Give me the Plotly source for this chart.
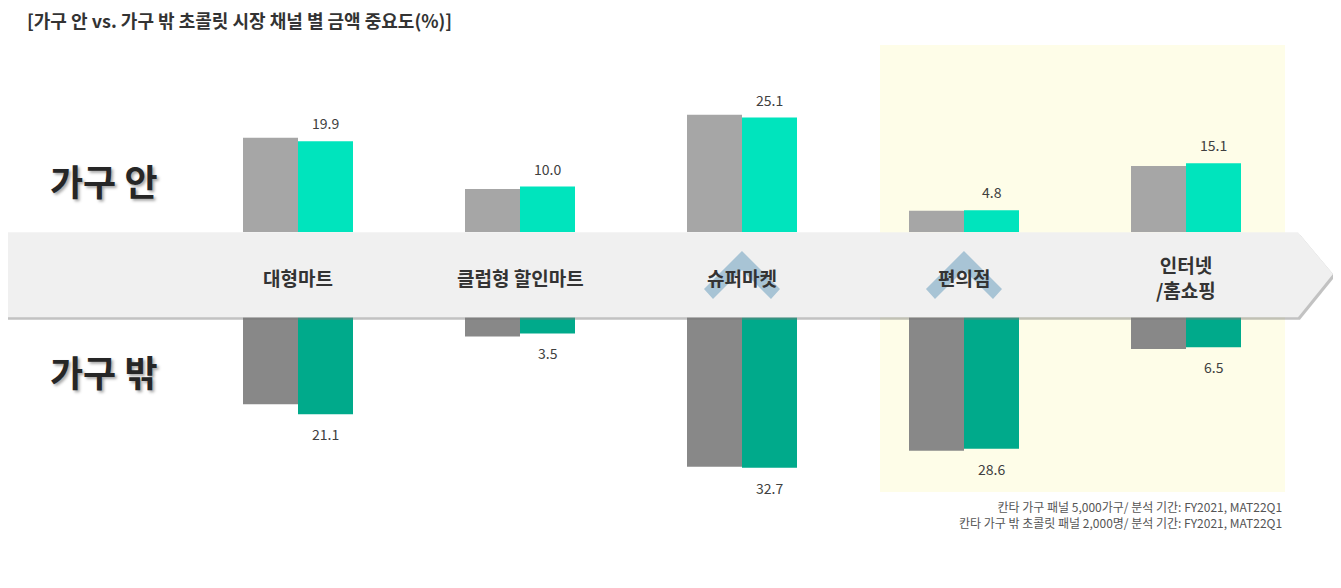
import plotly.graph_objects as go

W, H = 1341, 588
FONT = "Noto Sans CJK KR"

channels = ["대형마트", "클럽형 할인마트", "슈퍼마켓", "편의점", "인터넷<br>/홈쇼핑"]
# gray bars carry no labels in the source
inside_prev = [20.7, 9.5, 25.7, 4.7, 14.5]
inside_cur = [19.9, 10.0, 25.1, 4.8, 15.1]
outside_prev = [18.9, 4.2, 32.5, 29.0, 6.9]
outside_cur = [21.1, 3.5, 32.7, 28.6, 6.5]

title_text = "[가구 안 vs. 가구 밖 초콜릿 시장 채널 별 금액 중요도(%)]"
row_labels = ["가구 안", "가구 밖"]
source_lines = [
    "칸타 가구 패널 5,000가구/ 분석 기간: FY2021, MAT22Q1",
    "칸타 가구 밖 초콜릿 패널 2,000명/ 분석 기간: FY2021, MAT22Q1",
]
chevron_on = ["슈퍼마켓", "편의점"]

# the page body keeps its default 8px margin, so page pixels are shifted by it
OFF = 8


def px(x):
    return (x - OFF) / W


def py(y):
    return 1 - (y - OFF) / H


def path(points):
    return "M " + " L ".join(f"{px(x):.5f},{py(y):.5f}" for x, y in points) + " Z"


# pixel geometry of the two half-axes around the band
band_top, band_bot = 232.3, 317.3
y_max = 40
up_scale, low_scale = 4.57, 4.6
x_lo, x_hi = (OFF - 298) / 222, (OFF + W - 298) / 222
bar_px = 55

fig = go.Figure()
for vals, color, xa, ya in [
    (inside_prev, "#A6A6A6", "x", "y"),
    (inside_cur, "#00E4BD", "x", "y"),
    (outside_prev, "#888888", "x2", "y2"),
    (outside_cur, "#00AA8B", "x2", "y2"),
]:
    fig.add_trace(go.Bar(x=channels, y=vals, marker=dict(color=color, line_width=0),
                         xaxis=xa, yaxis=ya, showlegend=False, hoverinfo="skip"))

bar_units = bar_px * (x_hi - x_lo) / W
hidden = dict(visible=False, showgrid=False, zeroline=False)
fig.update_layout(
    width=W, height=H,
    margin=dict(l=0, r=0, t=0, b=0),
    paper_bgcolor="white",
    plot_bgcolor="rgba(0,0,0,0)",
    barmode="group",
    bargap=1 - 2 * bar_units,
    bargroupgap=0,
    xaxis=dict(hidden, domain=[0, 1], range=[x_lo, x_hi], anchor="y"),
    xaxis2=dict(hidden, domain=[0, 1], range=[x_lo, x_hi], anchor="y2"),
    yaxis=dict(hidden, range=[0, y_max], anchor="x",
               domain=[py(band_top), py(band_top - y_max * up_scale)]),
    yaxis2=dict(hidden, range=[y_max, 0], anchor="x2",
                domain=[py(band_bot + y_max * low_scale), py(band_bot)]),
)

shapes = []
# highlight panel behind the last two channels
shapes.append(dict(type="rect", xref="paper", yref="paper", layer="below",
                   x0=px(880), x1=px(1285), y0=py(492), y1=py(45),
                   fillcolor="#FEFDE8", line_width=0))
# arrow band with a soft shadow
arrow = [(3, band_top), (1298, band_top), (1333, 274), (1298, band_bot), (3, band_bot)]
shapes.append(dict(type="path", xref="paper", yref="paper", layer="above",
                   path=path([(x + 2, y + 2.5) for x, y in arrow]),
                   fillcolor="rgba(120,120,120,0.45)", line_width=0))
shapes.append(dict(type="path", xref="paper", yref="paper", layer="above",
                   path=path(arrow), fillcolor="#F0F0F0", line_width=0))
# up chevrons
for name in chevron_on:
    cx = 298 + 222 * channels.index(name)
    pts = [(cx, 251), (cx + 38, 289), (cx + 29, 299), (cx, 270),
           (cx - 29, 299), (cx - 38, 289)]
    shapes.append(dict(type="path", xref="paper", yref="paper", layer="above",
                       path=path(pts), fillcolor="#A8C4D5", line_width=0))
fig.update_layout(shapes=shapes)

ann = []
ann.append(dict(text=title_text, xref="paper", yref="paper", x=px(25), y=py(20),
                xanchor="left", yanchor="middle", showarrow=False,
                font=dict(family=FONT, size=18, color="#333333", weight="bold")))
for label, yc in zip(row_labels, [180, 371]):
    ann.append(dict(text=label, xref="paper", yref="paper", x=px(48), y=py(yc),
                    xanchor="left", yanchor="middle", showarrow=False,
                    font=dict(family=FONT, size=36, color="#262626", weight="bold",
                              shadow="2px 2px 3px rgba(0,0,0,0.35)")))
for name in channels:
    ann.append(dict(text=name, xref="x", yref="paper", x=name, y=py(277),
                    xanchor="center", yanchor="middle", showarrow=False,
                    font=dict(family=FONT, size=19, color="#333333", weight="bold")))
for name, v in zip(channels, inside_cur):
    ann.append(dict(text=f"{v:.1f}", xref="x", yref="y", x=name, y=v,
                    xshift=bar_px / 2, yshift=6, xanchor="center", yanchor="bottom",
                    showarrow=False, font=dict(family=FONT, size=14, color="#404040")))
for name, v in zip(channels, outside_cur):
    ann.append(dict(text=f"{v:.1f}", xref="x2", yref="y2", x=name, y=v,
                    xshift=bar_px / 2, yshift=-8, xanchor="center", yanchor="top",
                    showarrow=False, font=dict(family=FONT, size=14, color="#404040")))
ann.append(dict(text="<br>".join(source_lines), xref="paper", yref="paper",
                x=px(1284), y=py(514), xanchor="right", yanchor="middle", align="right",
                showarrow=False, font=dict(family=FONT, size=12, color="#555555")))
fig.update_layout(annotations=ann)

fig.write_html("out.html")
